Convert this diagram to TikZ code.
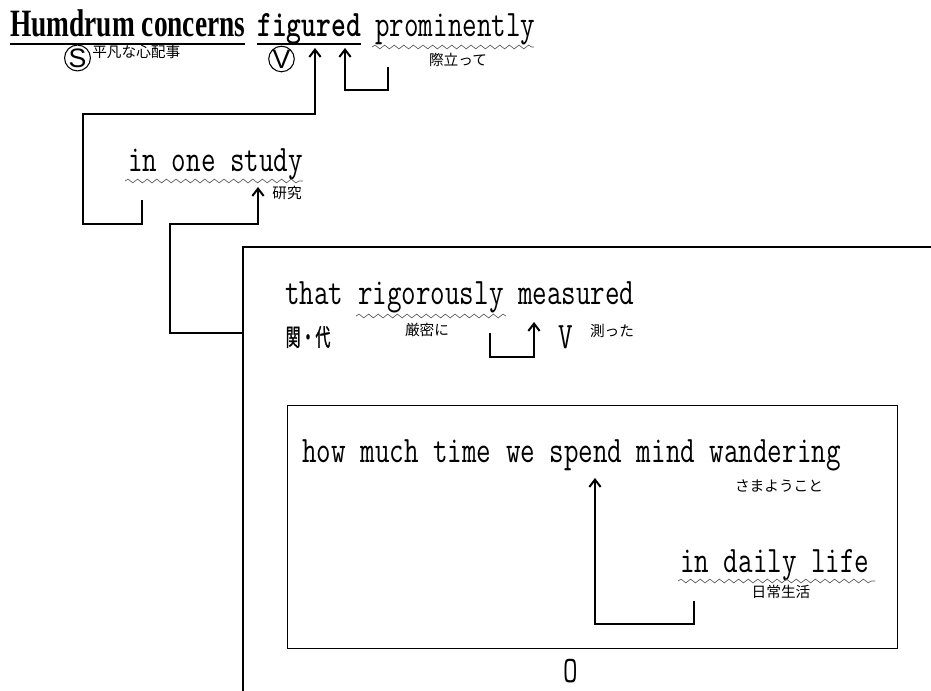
\documentclass[tikz,border=0pt]{standalone}
\usepackage{fontspec}
\usepackage{graphicx}
\usetikzlibrary{arrows.meta,decorations.pathmorphing}
\setmainfont{Liberation Sans}
\newfontfamily\monofont[FakeStretch=0.757]{Latin Modern Mono}
\newfontfamily\monobold[Extension=.otf, FakeStretch=0.757]{lmmonolt10-bold}
\newfontfamily\serifbold{Liberation Serif Bold}
\newfontfamily\cjk{Noto Sans CJK JP}
\newfontfamily\cjknarrow[FakeStretch=0.62, FakeBold=1]{Noto Sans CJK JP}
\newdimen\pxu \pxu=0.75pt
\tikzset{
  wordtext/.style={font=\monofont\fontsize{28}{30}\selectfont, anchor=base west, inner sep=0pt},
  boldword/.style={font=\monobold\fontsize{28}{30}\selectfont, anchor=base west, inner sep=0pt},
  gloss/.style={font=\cjk\fontsize{11}{13}\selectfont, inner sep=0pt},
  wavy/.style={draw=black!65, line width=0.5pt, decorate, decoration={snake, segment length=7.2pt, amplitude=1.4pt}},
  uline/.style={line width=1pt},
  conn/.style={line width=0.8pt},
  uparrow/.style={line width=1.5pt, -{Straight Barb[length=5.5pt,width=8.5pt]}},
  frame/.style={line width=1pt},
  circ/.style={circle, draw, line width=0.8pt, minimum size=19pt, inner sep=0pt, font=\fontsize{20}{20}\selectfont},
}
\begin{document}
\begin{tikzpicture}[x=0.75pt,y=-0.75pt]
\useasboundingbox (0,0) rectangle (931,691);
% ---------- top line ----------
\node[font=\serifbold\fontsize{29}{32}\selectfont, anchor=base west, inner sep=0pt] (hum) at (10,37) {\resizebox{235\pxu}{\height}{Humdrum concerns}};
\node[boldword] (fig) at (257,37) {figured};
\node[wordtext] (prom) at (375,37) {prominently};
\draw[uline] (10,44) -- (245,44);
\draw[uline] (257,44) -- (361,44);
\draw[wavy] (372,47) -- (534,47);
\node[gloss] (promj) at (458,60) {際立って};
\node[circ] (subj) at (77.5,58) {S};
\node[gloss, anchor=west] (subjj) at (92,52) {平凡な心配事};
\node[circ] (verb) at (281.5,59) {V};
% connectors of the top line
\coordinate (a1tip) at (315,48);
\coordinate (a1base) at (315,70);
\coordinate (a2tip) at (345,48);
\coordinate (a2base) at (345,70);
\coordinate (promfoot) at (388,67);
\coordinate (infoot) at (142,200);
\draw[conn] (promfoot) -- (388,90) -- (345,90) -- (a2base);
\draw[uparrow] (a2base) -- (a2tip);
\draw[conn] (infoot) -- (142,224) -- (83,224) -- (83,114) -- (315,114) -- (a1base);
\draw[uparrow] (a1base) -- (a1tip);
% ---------- in one study ----------
\node[wordtext] (study) at (128,172) {in one study};
\draw[wavy] (125,181) -- (303,181);
\node[gloss] (studyj) at (287,193) {研究};
\coordinate (a3tip) at (258,187);
\coordinate (a3base) at (258,207);
\coordinate (bigleft) at (243,333);
\draw[conn] (bigleft) -- (170,333) -- (170,224) -- (258,224) -- (a3base);
\draw[uparrow] (a3base) -- (a3tip);
% ---------- relative clause box ----------
\draw[frame] (243,691) -- (243,247) -- (931,247);
\node[wordtext] (that) at (285,305) {that rigorously measured};
\draw[wavy] (356,316) -- (506,316);
\node[gloss] (rigj) at (427,330) {厳密に};
\node[font=\cjknarrow\fontsize{18}{20}\selectfont, inner sep=0pt] (relpro) at (308,337) {関・代};
\node[font=\monofont\fontsize{28}{30}\selectfont, inner sep=0pt] (mv) at (566,337) {V};
\node[gloss] (measj) at (612,331) {測った};
\coordinate (a4tip) at (534,322);
\coordinate (a4base) at (534,342);
\coordinate (rigfoot) at (490,333);
\draw[conn] (rigfoot) -- (490,357) -- (534,357) -- (a4base);
\draw[uparrow] (a4base) -- (a4tip);
% ---------- object box ----------
\node[draw, frame, minimum width=457.5pt, minimum height=182.25pt, anchor=north west, inner sep=0pt] (obj) at (287,405) {};
\node[wordtext] (how) at (302,462) {how much time we spend mind wandering};
\node[gloss] (wandj) at (779,486) {さまようこと};
\node[wordtext] (daily) at (680,572) {in daily life};
\draw[wavy] (678,581) -- (875,581);
\node[gloss] (dailyj) at (781,592) {日常生活};
\coordinate (a5tip) at (595,478);
\coordinate (a5base) at (595,500);
\coordinate (dailyfoot) at (694,601);
\draw[conn] (dailyfoot) -- (694,624) -- (595,624) -- (a5base);
\draw[uparrow] (a5base) -- (a5tip);
\node[font=\monofont\fontsize{28}{30}\selectfont, inner sep=0pt] (objlabel) at (571,671) {O};
\end{tikzpicture}
\end{document}
